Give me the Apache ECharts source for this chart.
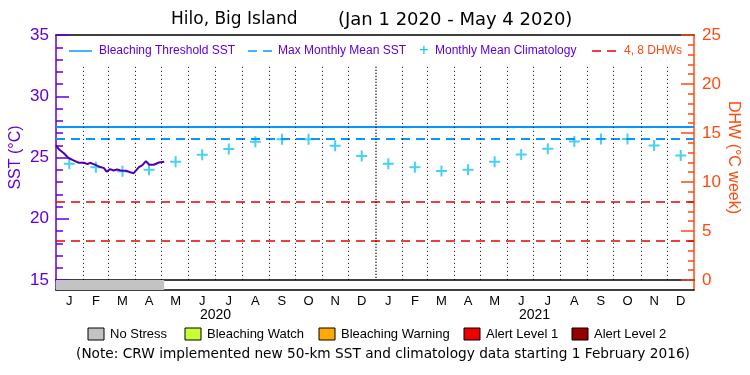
<!DOCTYPE html>
<html><head><meta charset="utf-8">
<script src="https://cdn.jsdelivr.net/npm/echarts@6/dist/echarts.min.js"></script>
<style>html,body{margin:0;padding:0;background:#fff}#c{width:750px;height:375px}</style>
</head><body><div id="c"></div>
<script>
// ---- data ----
const monthKeys = ['2020-01','2020-02','2020-03','2020-04','2020-05','2020-06','2020-07','2020-08','2020-09','2020-10','2020-11','2020-12',
                   '2021-01','2021-02','2021-03','2021-04','2021-05','2021-06','2021-07','2021-08','2021-09','2021-10','2021-11','2021-12'];
const monthLabels = ['J','F','M','A','M','J','J','A','S','O','N','D','J','F','M','A','M','J','J','A','S','O','N','D'];
const yearLabels = ['2020','2021'];
const climatology = [24.49,24.21,23.88,24.01,24.65,25.23,25.69,26.28,26.50,26.50,25.96,25.12,
                     24.49,24.21,23.89,24.00,24.65,25.24,25.71,26.30,26.52,26.52,25.98,25.16];
const sstDates = ['2020-01-01','2020-01-04','2020-01-10','2020-01-15','2020-01-21','2020-01-27','2020-02-02','2020-02-06',
                  '2020-02-09','2020-02-13','2020-02-19','2020-02-25','2020-02-28','2020-03-03','2020-03-07','2020-03-11',
                  '2020-03-15','2020-03-21','2020-03-26','2020-03-30','2020-04-05','2020-04-09','2020-04-13','2020-04-17',
                  '2020-04-22','2020-04-28','2020-05-04'];
const sstValues = [26.00,25.70,25.35,24.98,24.76,24.57,24.57,24.46,
                   24.57,24.46,24.27,24.13,23.84,24.05,23.94,24.02,
                   23.94,23.92,23.80,23.72,24.21,24.37,24.70,24.41,
                   24.41,24.59,24.66];
const dhwValues = [0,0,0,0,0,0,0,0,0,0,0,0,0,0,0,0,0,0,0,0,0,0,0,0,0,0,0];
const maxMonthlyMean = 26.52;
const bleachingThreshold = 27.52;
const dhwLevels = [4, 8];
const monthStarts = ['2020-02-01','2020-03-01','2020-04-01','2020-05-01','2020-06-01','2020-07-01','2020-08-01','2020-09-01',
                     '2020-10-01','2020-11-01','2020-12-01','2021-02-01','2021-03-01','2021-04-01','2021-05-01','2021-06-01',
                     '2021-07-01','2021-08-01','2021-09-01','2021-10-01','2021-11-01','2021-12-01'];
const yearStarts = ['2021-01-01'];
const stressStart = '2020-01-01';
const stressEnd = '2020-05-04';
const stressLevels = ['No Stress','Bleaching Watch','Bleaching Warning','Alert Level 1','Alert Level 2'];
const titlePlace = 'Hilo, Big Island';
const titlePeriod = '(Jan 1 2020 - May 4 2020)';

// ---- style ----
const FONT = 'Liberation Sans';
const WFONT = 'DejaVu Sans';
const PURPLE = '#6000d8';
const LINEPURPLE = '#5000b4';
const ORANGE = '#ff4a10';
const AZURE = '#0a96ff';
const CYAN = '#18c4f0';
const RED = '#e60000';
const stressColors = ['#c3c3c3','#c8ff32','#ffaa00','#f00000','#960000'];
const dotTop = 32.4;
const tMin = '2020-01-01', tMax = '2022-01-01';

const chart = echarts.init(document.getElementById('c'));

const monthLines = monthStarts.map(d => [{coord:[d, dotTop]}, {coord:[d, 15]}]);
const yearLines = yearStarts.map(d => [{coord:[d, dotTop]}, {coord:[d, 15]}]);

const legendY = 51;
const g = [];
// title
g.push({type:'text', x:171, y:20, style:{text:titlePlace, fill:'#000', font:'17px '+WFONT, verticalAlign:'middle'}});
g.push({type:'text', x:338, y:20, style:{text:titlePeriod, fill:'#000', font:'18px '+WFONT, verticalAlign:'middle'}});
// in-plot legend
g.push({type:'line', shape:{x1:69,y1:legendY,x2:92,y2:legendY}, style:{stroke:AZURE,lineWidth:1.5}});
g.push({type:'text', x:99, y:legendY, style:{text:'Bleaching Threshold SST', fill:PURPLE, font:'12px '+FONT, verticalAlign:'middle'}});
g.push({type:'line', shape:{x1:248,y1:legendY,x2:272,y2:legendY}, style:{stroke:AZURE,lineWidth:1.5,lineDash:[9,6]}});
g.push({type:'text', x:278, y:legendY, style:{text:'Max Monthly Mean SST', fill:PURPLE, font:'12px '+FONT, verticalAlign:'middle'}});
g.push({type:'text', x:424, y:legendY, style:{text:'+', fill:CYAN, font:'16px '+FONT, verticalAlign:'middle', align:'center'}});
g.push({type:'text', x:435, y:legendY, style:{text:'Monthly Mean Climatology', fill:PURPLE, font:'12px '+FONT, verticalAlign:'middle'}});
g.push({type:'line', shape:{x1:592,y1:legendY,x2:620,y2:legendY}, style:{stroke:RED,lineWidth:1.5,lineDash:[9,6]}});
g.push({type:'text', x:624, y:legendY, style:{text:'4, 8 DHWs', fill:ORANGE, font:'12px '+FONT, verticalAlign:'middle'}});
// bottom legend
const boxX = [88,185,319,464,572];
stressLevels.forEach((name,i) => {
  g.push({type:'rect', shape:{x:boxX[i], y:328, width:16, height:12}, style:{fill:stressColors[i], stroke:'#000', lineWidth:1}});
  g.push({type:'text', x:boxX[i]+22, y:334, style:{text:name, fill:'#000', font:'13px '+FONT, verticalAlign:'middle'}});
});
g.push({type:'text', x:383, y:354, style:{text:'(Note: CRW implemented new 50-km SST and climatology data starting 1 February 2016)', fill:'#000', font:'13.7px '+WFONT, verticalAlign:'middle', align:'center'}});

const option = {
  animation:false,
  textStyle:{fontFamily:FONT},
  grid:[
    {left:56, right:56, top:35, height:245, outerBoundsMode:'none'},
    {left:56, right:56, top:280, height:10, outerBoundsMode:'none'}
  ],
  xAxis:[
    {gridIndex:0, type:'time', min:tMin, max:tMax, position:'bottom', axisLine:{show:true,lineStyle:{color:'#000',width:1.5}},
     axisTick:{show:false}, axisLabel:{show:false}, splitLine:{show:false}},
    {gridIndex:0, type:'category', data:monthKeys, position:'top', boundaryGap:true, axisLine:{show:true,lineStyle:{color:'#000',width:1.5}},
     axisTick:{show:false}, axisLabel:{show:false}, splitLine:{show:false}},
    {gridIndex:1, type:'category', data:monthKeys, position:'bottom', boundaryGap:true, axisLine:{show:true,lineStyle:{color:'#000',width:1.5}},
     axisTick:{show:false}, axisLabel:{interval:0, formatter:(v,i)=>monthLabels[i], color:'#000', fontSize:13, margin:5}, splitLine:{show:false}},
    {gridIndex:1, type:'category', data:yearLabels, position:'bottom', offset:13, boundaryGap:true, axisLine:{show:false},
     axisTick:{show:false}, axisLabel:{interval:0, color:'#000', fontSize:14, margin:5}, splitLine:{show:false}},
    {gridIndex:1, type:'time', min:tMin, max:tMax, show:false}
  ],
  yAxis:[
    {gridIndex:0, type:'value', min:15, max:35, interval:5, position:'left',
     axisLine:{show:true, lineStyle:{color:PURPLE, width:1.5}},
     axisTick:{show:true, inside:true, length:13, lineStyle:{color:PURPLE, width:1.5}},
     minorTick:{show:true, splitNumber:5, length:7, lineStyle:{color:PURPLE, width:1.5}},
     axisLabel:{color:PURPLE, fontSize:17, margin:7}, splitLine:{show:false},
     name:'SST (°C)', nameLocation:'middle', nameGap:32, nameMoveOverlap:false, nameTextStyle:{color:PURPLE, fontSize:16}},
    {gridIndex:0, type:'value', min:0, max:25, interval:5, position:'right',
     axisLine:{show:true, lineStyle:{color:ORANGE, width:1.5}},
     axisTick:{show:true, inside:true, length:13, lineStyle:{color:ORANGE, width:1.5}},
     minorTick:{show:true, splitNumber:5, length:6, lineStyle:{color:ORANGE, width:1.5}},
     axisLabel:{color:ORANGE, fontSize:17, margin:8}, splitLine:{show:false},
     name:'DHW (°C week)', nameLocation:'middle', nameRotate:-90, nameGap:31, nameMoveOverlap:false, nameTextStyle:{color:ORANGE, fontSize:16}},
    {gridIndex:1, type:'value', min:0, max:1, position:'left', axisLine:{show:true, lineStyle:{color:PURPLE, width:1.5}},
     axisTick:{show:false}, axisLabel:{show:false}, splitLine:{show:false}},
    {gridIndex:1, type:'value', min:0, max:1, position:'right', axisLine:{show:true, lineStyle:{color:ORANGE, width:1.5}},
     axisTick:{show:false}, axisLabel:{show:false}, splitLine:{show:false}}
  ],
  series:[
    {type:'line', name:'DHW', xAxisIndex:0, yAxisIndex:1, data:sstDates.map((d,i)=>[d, dhwValues[i]]),
     showSymbol:false, lineStyle:{width:0, color:RED}, silent:true, z:1,
     markLine:{symbol:'none', silent:true, label:{show:false}, animation:false,
       lineStyle:{color:RED, type:[9,6], width:1.5},
       data: dhwLevels.map(v => ({yAxis:v}))}},
    {type:'line', name:'SST', xAxisIndex:0, yAxisIndex:0, data:sstDates.map((d,i)=>[d, sstValues[i]]),
     showSymbol:false, lineStyle:{color:LINEPURPLE, width:2}, z:5,
     markLine:{symbol:'none', silent:true, label:{show:false}, animation:false,
       data:[
         {yAxis:bleachingThreshold, lineStyle:{color:AZURE, type:'solid', width:2}},
         {yAxis:maxMonthlyMean, lineStyle:{color:AZURE, type:[9,6], width:2}},
         ...monthLines.map(p => [Object.assign({lineStyle:{color:'#000', type:[1,3], width:1}}, p[0]), p[1]]),
         ...yearLines.map(p => [Object.assign({lineStyle:{color:'#000', type:[1,2], width:1.5}}, p[0]), p[1]])
       ]}},
    {type:'scatter', name:'Monthly Mean Climatology', xAxisIndex:1, yAxisIndex:0, data:climatology,
     symbol:'path://M0,4.5h11v2h-11z M4.5,0h2v11h-2z', symbolSize:[11,11], itemStyle:{color:CYAN}, z:4},
    {type:'line', name:'Stress', xAxisIndex:4, yAxisIndex:2, data:[[stressStart,1],[stressEnd,1]],
     showSymbol:false, lineStyle:{width:0}, areaStyle:{color:stressColors[0], opacity:1}, silent:true}
  ],
  graphic:g
};
chart.setOption(option);
</script></body></html>
